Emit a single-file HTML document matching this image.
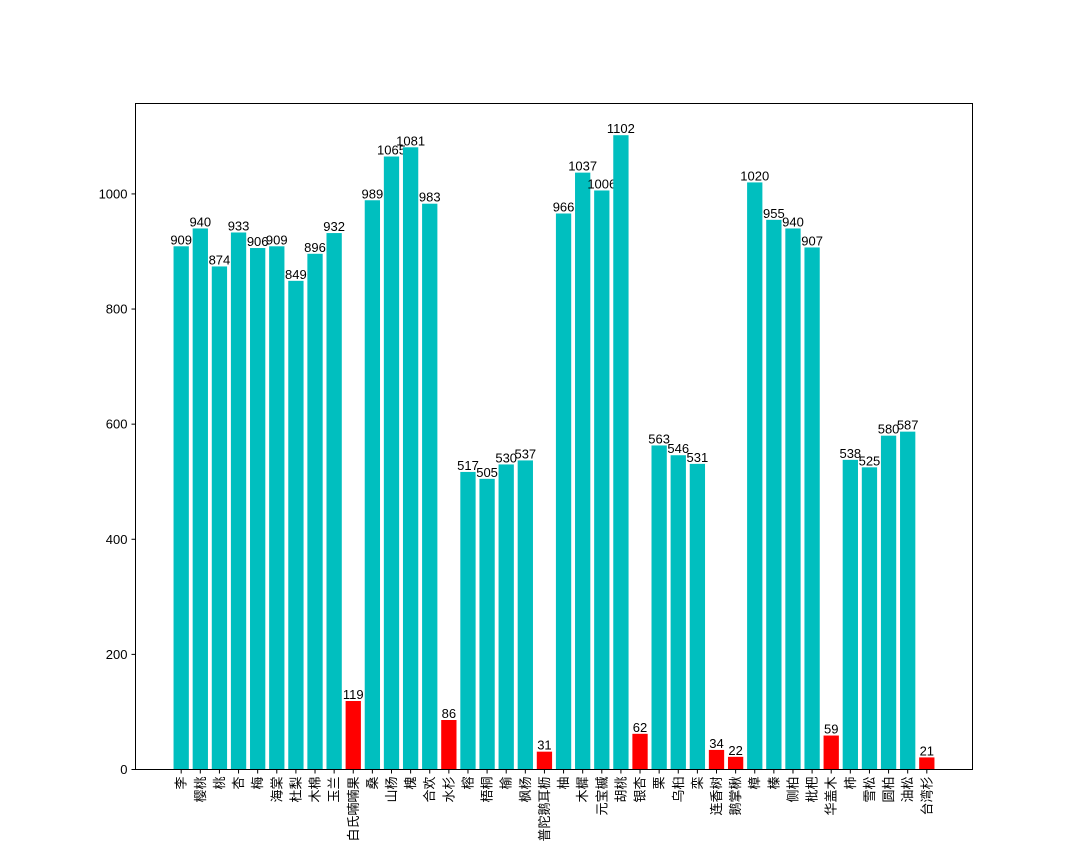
<!DOCTYPE html>
<html><head><meta charset="utf-8"><style>
body{margin:0;background:#fff}
svg{display:block;font-family:"Liberation Sans","Noto Sans CJK SC",sans-serif}
</style></head><body>
<svg id="chart" width="1080" height="864" xmlns="http://www.w3.org/2000/svg">
<rect x="0" y="0" width="1080" height="864" fill="#fff"/>
<g id="bars"></g>
<g id="yaxis"></g>
<g id="xaxis"></g>
<rect x="135.5" y="103.5" width="837" height="666" fill="none" stroke="#000" stroke-width="1"/>
</svg>
<script>
const categories=["李","樱桃","桃","杏","梅","海棠","杜梨","木棉","玉兰","白氏喃喃果","桑","山杨","槐","合欢","水杉","榕","梧桐","榆","枫杨","普陀鹅耳枥","柚","木樨","元宝槭","胡桃","银杏","栗","乌桕","栾","连香树","鹅掌楸","樟","榛","侧柏","枇杷","华盖木","柿","雪松","圆柏","油松","台湾杉"];
const values=[909,940,874,933,906,909,849,896,932,119,989,1065,1081,983,86,517,505,530,537,31,966,1037,1006,1102,62,563,546,531,34,22,1020,955,940,907,59,538,525,580,587,21];
const yTicks=[0,200,400,600,800,1000];
const threshold=200;
const NS="http://www.w3.org/2000/svg";
const L=135.5,R=972.5,T=103.5,B=769.5;
const n=categories.length;
const span=(n-1)+0.8, pad=span*0.05;
const xmin=-0.4-pad, xmax=n-1+0.4+pad;
const ymax=Math.max(...values)*1.05;
function x(v){return L+(v-xmin)/(xmax-xmin)*(R-L);}
function y(v){return B-v/ymax*(B-T);}
function mk(tag,attrs,parent){const e=document.createElementNS(NS,tag);for(const k in attrs)e.setAttribute(k,attrs[k]);parent.appendChild(e);return e;}
const gb=document.getElementById('bars'),gx=document.getElementById('xaxis'),gy=document.getElementById('yaxis');
values.forEach((v,i)=>{
  const x0=x(i-0.4),x1=x(i+0.4);
  const r=mk('rect',{x:x0,y:y(v),width:x1-x0,height:B-y(v),fill:v<threshold?'#ff0000':'#00bfbf'},gb);
  
  
  const t=mk('text',{x:x(i),y:y(v)-2,'text-anchor':'middle','font-size':'13',fill:'#000'},gb);
  t.textContent=v;
  
  
  mk('line',{x1:x(i),x2:x(i),y1:B,y2:B+4,stroke:'#000'},gx);
  const lb=mk('text',{x:0,y:0,'text-anchor':'end','font-size':'13',fill:'#000',transform:'translate('+(x(i)+4.5)+','+(B+7)+') rotate(-90)'},gx);
  lb.textContent=categories[i];
  
  
});
yTicks.forEach(v=>{
  mk('line',{x1:L-4,x2:L,y1:y(v),y2:y(v),stroke:'#000'},gy);
  const t=mk('text',{x:L-8,y:y(v)+4.5,'text-anchor':'end','font-size':'13',fill:'#000'},gy);
  t.textContent=v;
  
  
});
</script>
</body></html>
